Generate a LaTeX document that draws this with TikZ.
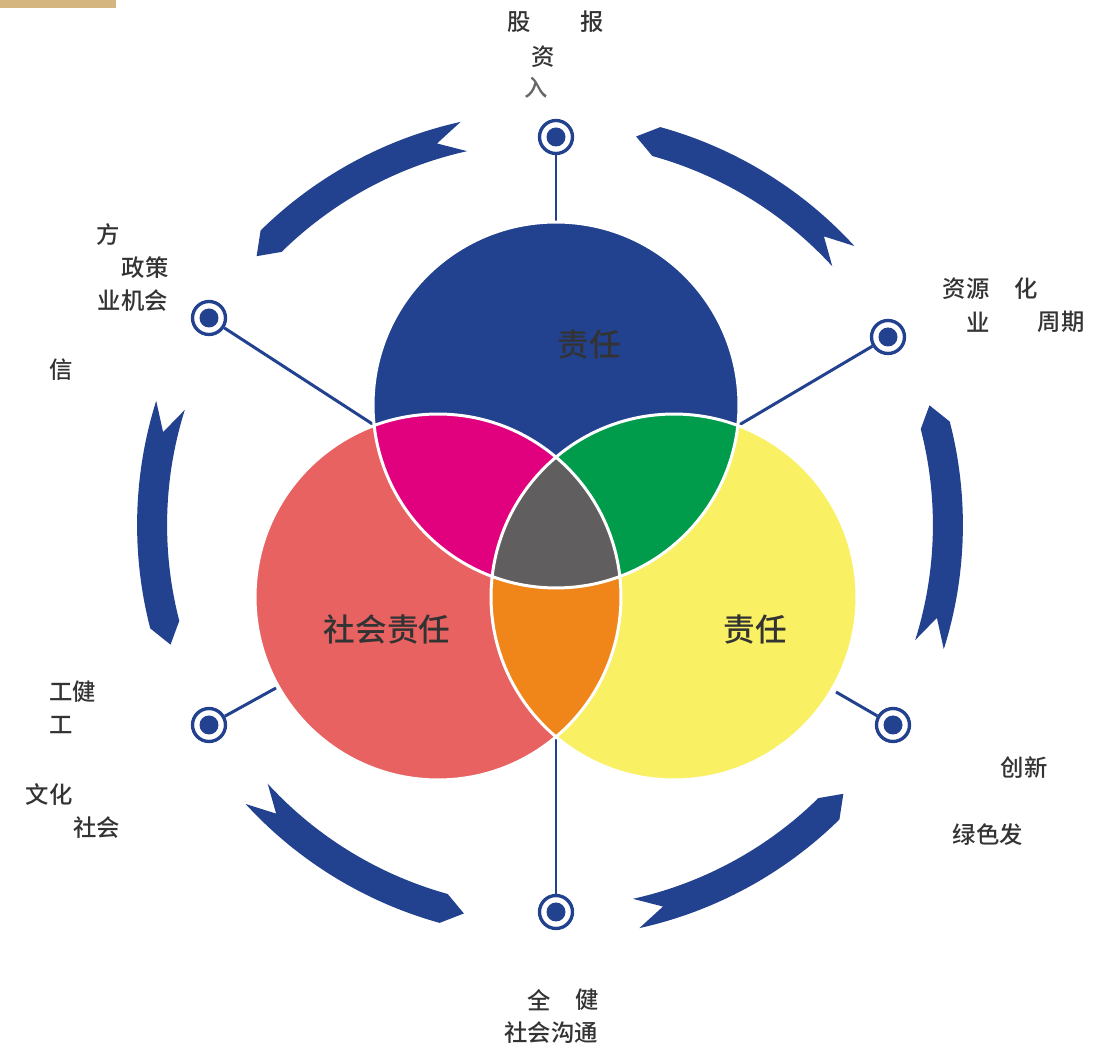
\documentclass[tikz,border=0pt]{standalone}
\usepackage{fontspec}
\newfontfamily\cjk{Noto Sans CJK SC}
\newfontfamily\cjkm{Noto Sans CJK SC Medium}
\usetikzlibrary{calc}
\definecolor{cblue}{HTML}{22418F}
\definecolor{cred}{HTML}{E96262}
\definecolor{cyel}{HTML}{F9F063}
\definecolor{cmag}{HTML}{E1007E}
\definecolor{cgreen}{HTML}{009C4B}
\definecolor{cgray}{HTML}{605E5F}
\definecolor{corange}{HTML}{F0861A}
\definecolor{ctan}{HTML}{D4B47F}
\definecolor{txt}{HTML}{333333}
\begin{document}
\begin{tikzpicture}[x=0.02cm,y=-0.02cm,
  lab/.style={font=\cjkm\fontsize{13.3}{16}\selectfont, text=txt, inner sep=0pt},
  biglab/.style={font=\cjkm\fontsize{18}{22}\selectfont, text=txt, inner sep=0pt},
  conn/.style={draw=cblue, line width=1.7pt},
  band/.style={fill=cblue},
  ring/.style={circle, draw=cblue, line width=1.9pt, fill=white, minimum size=0.66cm, inner sep=0pt,
    path picture={\fill[cblue] (path picture bounding box.center) circle (0.19cm);}}]
\useasboundingbox (0,0) rectangle (1117,1053);
\fill[ctan] (0,0) rectangle (116,8);

% centres
\coordinate (O) at (550,525);
\coordinate (B) at (556,405);
\coordinate (L) at (438,597);
\coordinate (R) at (674,597);

% rotating arrow bands (counter-clockwise)
\foreach \c in {0,60,120,180,240,300}{
  \pgfmathsetmacro{\t}{\c-17.5}
  \pgfmathsetmacro{\n}{\c-13.5}
  \pgfmathsetmacro{\h}{\c+14.5}
  \pgfmathsetmacro{\p}{\c+17.5}
  \begin{scope}[shift={(O)}]
    \fill[band] (\t:8.26cm) arc[start angle=\t, end angle=\h, radius=8.26cm]
      -- (\p:7.96cm) -- (\h:7.66cm) arc[start angle=\h, end angle=\t, radius=7.66cm]
      -- (\n:7.96cm) -- cycle;
  \end{scope}
}

% pins
\node[ring] (p1) at (556,137) {};
\node[ring] (p2) at (209,318) {};
\node[ring] (p3) at (888,337) {};
\node[ring] (p4) at (209,725) {};
\node[ring] (p5) at (893,725) {};
\node[ring] (p6) at (556,912) {};
\coordinate (e1) at (556,226);
\coordinate (e2) at (374,425);
\coordinate (e3) at (739,425);
\coordinate (e4) at (276,688);
\coordinate (e5) at (836,692);
\coordinate (e6) at (556,734);
\foreach \i in {1,...,6}{\draw[conn] (p\i) -- (e\i);}

% circles
\fill[cblue] (B) circle (3.66cm);
\fill[cred] (L) circle (3.66cm);
\fill[cyel] (R) circle (3.66cm);
\begin{scope}\clip (B) circle (3.66cm); \fill[cmag] (L) circle (3.66cm);\end{scope}
\begin{scope}\clip (B) circle (3.66cm); \fill[cgreen] (R) circle (3.66cm);\end{scope}
\begin{scope}\clip (L) circle (3.66cm); \fill[corange] (R) circle (3.66cm);\end{scope}
\begin{scope}\clip (B) circle (3.66cm); \clip (L) circle (3.66cm); \fill[cgray] (R) circle (3.66cm);\end{scope}
\draw[white, line width=1.7pt] (B) circle (3.66cm) (L) circle (3.66cm) (R) circle (3.66cm);

\node[biglab] (tb) at (589,345) {责任};
\node[biglab] (tl) at (387,630) {社会责任};
\node[biglab] (tr) at (755,630) {责任};

% outer labels
\node[lab] (a1) at (519,22) {股};
\node[lab] (a2) at (592,22) {报};
\node[lab] (a3) at (543,57) {资};
\node[lab, text=txt!75] (a4) at (536,88) {入};
\node[lab] (b1) at (108,235) {方};
\node[lab] (b2) at (145,268) {政策};
\node[lab] (b3) at (133,301) {业机会};
\node[lab] (b4) at (61,370) {信};
\node[lab] (c1) at (966,289) {资源};
\node[lab] (c2) at (1026,289) {化};
\node[lab] (c3) at (978,322) {业};
\node[lab] (c4) at (1061,322) {周期};
\node[lab] (d1) at (73,692) {工健};
\node[lab] (d2) at (61,725) {工};
\node[lab] (d3) at (49,795) {文化};
\node[lab] (d4) at (97,828) {社会};
\node[lab] (f1) at (1024,768) {创新};
\node[lab] (f2) at (988,835) {绿色发};
\node[lab] (g1) at (539,1000) {全};
\node[lab] (g2) at (587,1000) {健};
\node[lab] (g3) at (551,1033) {社会沟通};
\end{tikzpicture}
\end{document}
